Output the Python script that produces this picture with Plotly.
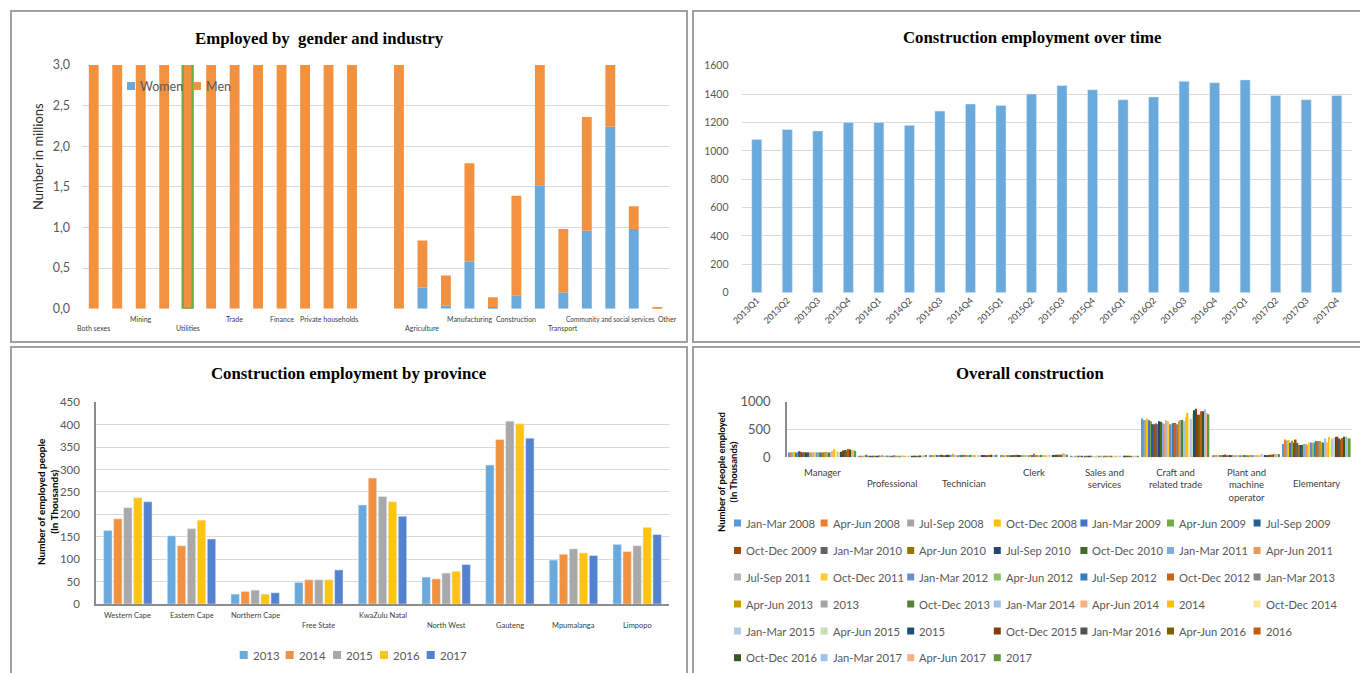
import plotly.graph_objects as go

W, H = 1360, 673

# ------------------------------------------------------------------ DATA
# Panel 1: Employed by gender and industry (millions), 25 category slots
industry_slots = list(range(25))
industry_labels = ["Both sexes", "Mining", "Utilities", "Trade", "Finance",
                   "Private households", "Agriculture", "Manufacturing",
                   "Construction", "Transport", "Community and social services", "Other"]
industry_label_slots = [0, 2, 4, 6, 8, 10, 14, 16, 18, 20, 22, 24]
genders = ["Women", "Men"]
women = [0, 0, 0, 0, 0, 0, 0, 0, 0, 0, 0, 0, 0, 0,
         0.26, 0.04, 0.58, 0.02, 0.16, 1.52, 0.20, 0.96, 2.24, 0.98, 0.0]
men = [3.4, 3.4, 3.4, 3.4, 3.4, 3.4, 3.4, 3.4, 3.4, 3.4, 3.4, 3.4, 0, 3.4,
       0.58, 0.37, 1.21, 0.12, 1.23, 1.90, 0.78, 1.40, 1.20, 0.28, 0.02]

# Panel 2: Construction employment over time (thousands)
quarters = ["2013Q1", "2013Q2", "2013Q3", "2013Q4", "2014Q1", "2014Q2", "2014Q3", "2014Q4",
            "2015Q1", "2015Q2", "2015Q3", "2015Q4", "2016Q1", "2016Q2", "2016Q3", "2016Q4",
            "2017Q1", "2017Q2", "2017Q3", "2017Q4"]
construction_emp = [1080, 1150, 1140, 1200, 1200, 1180, 1280, 1330, 1320, 1400,
                    1460, 1430, 1360, 1380, 1490, 1480, 1500, 1390, 1360, 1390]

# Panel 3: Construction employment by province (thousands)
provinces = ["Western Cape", "Eastern Cape", "Northern Cape", "Free State", "KwaZulu Natal",
             "North West", "Gauteng", "Mpumalanga", "Limpopo"]
years = ["2013", "2014", "2015", "2016", "2017"]
emp_2013 = [164, 152, 22, 48, 221, 60, 310, 98, 133]
emp_2014 = [190, 130, 28, 54, 281, 56, 367, 111, 117]
emp_2015 = [215, 168, 31, 54, 240, 69, 408, 123, 130]
emp_2016 = [237, 187, 22, 54, 228, 73, 402, 114, 171]
emp_2017 = [228, 145, 25, 76, 196, 88, 370, 108, 155]

# Panel 4: Overall construction by occupation (thousands)
occupations = ["Manager", "Professional", "Technician", "Clerk", "Sales and services",
               "Craft and related trade", "Plant and machine operator", "Elementary"]
periods = ["Jan-Mar 2008", "Apr-Jun 2008", "Jul-Sep 2008", "Oct-Dec 2008", "Jan-Mar 2009",
           "Apr-Jun 2009", "Jul-Sep 2009", "Oct-Dec 2009", "Jan-Mar 2010", "Apr-Jun 2010",
           "Jul-Sep 2010", "Oct-Dec 2010", "Jan-Mar 2011", "Apr-Jun 2011", "Jul-Sep 2011",
           "Oct-Dec 2011", "Jan-Mar 2012", "Apr-Jun 2012", "Jul-Sep 2012", "Oct-Dec 2012",
           "Jan-Mar 2013", "Apr-Jun 2013", "2013", "Oct-Dec 2013", "Jan-Mar 2014",
           "Apr-Jun 2014", "2014", "Oct-Dec 2014", "Jan-Mar 2015", "Apr-Jun 2015", "2015",
           "Oct-Dec 2015", "Jan-Mar 2016", "Apr-Jun 2016", "2016", "Oct-Dec 2016",
           "Jan-Mar 2017", "Apr-Jun 2017", "2017"]
manager = [85, 88, 90, 95, 88, 92, 110, 95, 90, 92, 88, 90, 86, 88, 90, 92, 88, 90, 86, 88,
           92, 95, 90, 88, 95, 110, 145, 118, 102, 95, 100, 122, 130, 128, 148, 140, 132, 138, 112]
professional = [25, 30, 28, 32, 45, 30, 28, 26, 30, 28, 25, 32, 30, 40, 26, 30, 32, 28, 25, 30,
                35, 28, 26, 30, 28, 32, 30, 26, 28, 30, 25, 28, 30, 26, 28, 32, 30, 35, 40]
technician = [40, 42, 38, 45, 40, 42, 44, 40, 38, 42, 45, 40, 44, 62, 42, 40, 38, 42, 40, 44,
              42, 40, 38, 42, 44, 40, 42, 38, 40, 44, 42, 40, 38, 42, 40, 44, 42, 40, 45]
clerk = [42, 40, 38, 40, 42, 40, 38, 42, 40, 44, 42, 40, 38, 40, 42, 40, 38, 42, 40, 62,
         40, 42, 38, 40, 42, 40, 38, 42, 40, 38, 42, 40, 44, 48, 50, 45, 72, 60, 45]
sales = [12, 10, 14, 12, 11, 13, 12, 10, 12, 14, 11, 12, 13, 10, 12, 11, 14, 12, 10, 12,
         13, 11, 12, 14, 10, 12, 13, 11, 12, 10, 14, 12, 11, 13, 12, 10, 12, 14, 11]
craft = [696, 672, 666, 696, 666, 649, 595, 595, 607, 595, 649, 637, 607, 595, 666, 649, 595,
         595, 619, 619, 595, 649, 672, 672, 649, 726, 797, 708, 684, 785, 845, 875, 767, 767,
         827, 827, 863, 797, 773]
plant = [35, 38, 40, 36, 42, 38, 40, 52, 38, 36, 40, 38, 36, 38, 40, 38, 36, 38, 40, 38,
         36, 38, 40, 38, 36, 38, 40, 38, 60, 42, 40, 38, 40, 45, 50, 55, 62, 58, 60]
elementary = [238, 321, 297, 309, 262, 297, 262, 321, 262, 220, 220, 220, 238, 238, 220, 268,
              268, 268, 268, 292, 292, 292, 268, 268, 339, 268, 363, 292, 339, 351, 363, 369,
              339, 321, 345, 369, 375, 345, 339]

# ------------------------------------------------------------------ STYLE
BLUE, ORANGE, GREY, GOLD, BLUE2, GREEN = "#6AA9DC", "#F29240", "#A9A9A9", "#FFC312", "#5282D0", "#70AD47"
gender_colors = [BLUE, ORANGE]
year_colors = [BLUE, ORANGE, GREY, GOLD, BLUE2]
period_colors = ["#5B9BD5", "#ED7D31", "#A5A5A5", "#FFC000", "#4472C4", "#70AD47",
                 "#255E91", "#9E480E", "#636363", "#997300", "#264478", "#43682B",
                 "#7CAFDD", "#F1975A", "#B7B7B7", "#FFCD33", "#698ED0", "#8CC168",
                 "#327DC2", "#D26012", "#848484", "#CC9A00", "#A5A5A5", "#548235",
                 "#9DC3E6", "#F4B183", "#FFC000", "#FFE699",
                 "#B4C7E7", "#C5E0B4", "#1F4E79", "#843C0C", "#525252", "#7F6000", "#C55A11",
                 "#385723", "#9DC3E6", "#F4B183", "#5E9C3B"]
SANS = "Lato"
SERIF = "Liberation Serif"
TICKC = "#595959"
LABC = "#404040"
GRIDC = "#D9D9D9"


def fx(p):
    return p / W


def fy(p):
    return 1 - p / H


fig = go.Figure()

# ---------------- Panel 1 (stacked: men drawn on top of women)
fig.add_trace(go.Bar(x=industry_slots, y=women, name=genders[0], marker=dict(color=gender_colors[0], line=dict(width=0)),
                     width=0.42, offset=-0.21, xaxis="x", yaxis="y"))
line_w = [2.5 if s == 4 else 0 for s in industry_slots]
line_c = [GREEN if s == 4 else ORANGE for s in industry_slots]
fig.add_trace(go.Bar(x=industry_slots, y=men, base=women, name=genders[1],
                     marker=dict(color=gender_colors[1], line=dict(width=line_w, color=line_c)),
                     width=0.42, offset=-0.21, xaxis="x", yaxis="y"))

# ---------------- Panel 2
fig.add_trace(go.Bar(x=quarters, y=construction_emp, name="Construction", marker=dict(color=BLUE),
                     width=0.33, offset=-0.165, xaxis="x2", yaxis="y2"))

# ---------------- Panel 3
pitch3, bw3 = 0.157, 0.132
for k, (yr, vals) in enumerate(zip(years, [emp_2013, emp_2014, emp_2015, emp_2016, emp_2017])):
    fig.add_trace(go.Bar(x=provinces, y=vals, name=yr, marker=dict(color=year_colors[k]),
                         width=bw3, offset=-0.38 + k * pitch3, xaxis="x3", yaxis="y3"))

# ---------------- Panel 4
occ_values = [manager, professional, technician, clerk, sales, craft, plant, elementary]
pitch4 = 0.0247
for k, per in enumerate(periods):
    vals = [series[k] for series in occ_values]
    fig.add_trace(go.Bar(x=occupations, y=vals, name=per, marker=dict(color=period_colors[k], line=dict(width=0)),
                         width=pitch4 * 0.92, offset=-len(periods) * pitch4 / 2 + k * pitch4,
                         xaxis="x4", yaxis="y4"))

# ------------------------------------------------------------------ AXES
tick_font = lambda s: dict(family=SANS, size=s, color=TICKC)

fig.update_layout(
    width=W, height=H, margin=dict(l=0, r=0, t=0, b=0, autoexpand=False),
    paper_bgcolor="white", plot_bgcolor="white", barmode="group",
    showlegend=False,
    xaxis=dict(domain=[fx(82), fx(669)], anchor="y", range=[-0.5, 24.5], showticklabels=False,
               showgrid=False, zeroline=False, showline=False, ticks="", automargin=False),
    yaxis=dict(domain=[fy(308.7), fy(65)], anchor="x", range=[0, 3],
               tickvals=[0, 0.5, 1, 1.5, 2, 2.5, 3],
               ticktext=["0,0", "0,5", "1,0", "1,5", "2,0", "2,5", "3,0"],
               tickfont=tick_font(12.5), gridcolor=GRIDC, gridwidth=1.2, zeroline=False,
               showline=False, ticks="", ticklabelstandoff=11, automargin=False),
    xaxis2=dict(domain=[fx(741.5), fx(1352)], anchor="y2", range=[-0.5, 19.5], tickangle=-45,
                tickfont=dict(family=SANS, size=8.8, color=LABC), showgrid=False, zeroline=False,
                showline=False, ticks="", automargin=False),
    yaxis2=dict(domain=[fy(292.7), fy(65.7)], anchor="x2", range=[0, 1600], dtick=200,
                tickfont=tick_font(10.5), gridcolor=GRIDC, gridwidth=1.2, zeroline=False,
                showline=False, ticks="", ticklabelstandoff=12, automargin=False),
    xaxis3=dict(domain=[fx(96), fx(669)], anchor="y3", range=[-0.5, 8.5], showticklabels=False,
                showgrid=False, zeroline=False, showline=True, linecolor="#8C8C8C", linewidth=1.5,
                ticks="", automargin=False),
    yaxis3=dict(domain=[fy(604), fy(402.3)], anchor="x3", range=[0, 450], dtick=50,
                tickfont=tick_font(11.5), gridcolor=GRIDC, gridwidth=1.2, zeroline=False,
                showline=True, linecolor="#8C8C8C", linewidth=1.5, ticks="", ticklabelstandoff=12,
                automargin=False),
    xaxis4=dict(domain=[fx(787), fx(1352)], anchor="y4", range=[-0.5, 7.5], showticklabels=False,
                showgrid=False, zeroline=False, showline=False, ticks="", automargin=False),
    yaxis4=dict(domain=[fy(457.3), fy(401.7)], anchor="x4", range=[0, 1000], dtick=500,
                tickfont=tick_font(13), gridcolor=GRIDC, gridwidth=1.2, zeroline=False,
                showline=True, linecolor="#8C8C8C", linewidth=1.5, ticks="", ticklabelstandoff=12,
                automargin=False),
)

# ------------------------------------------------------------------ PANELS, TITLES, LABELS
border = dict(color="#A0A0A0", width=2)
for (x0, y0, x1, y1) in [(11, 11, 687, 342), (693, 11, 1363, 342), (11, 347, 687, 676), (693, 347, 1363, 676)]:
    fig.add_shape(type="rect", xref="paper", yref="paper", x0=fx(x0), x1=fx(x1), y0=fy(y1), y1=fy(y0),
                  line=border, fillcolor="rgba(0,0,0,0)", layer="above")

titles = [("Employed by  gender and industry", 319, 38),
          ("Construction employment over time", 1032, 37),
          ("Construction employment by province", 349, 373),
          ("Overall construction", 1030, 373)]
for txt, cx, cy in titles:
    fig.add_annotation(text="<b>%s</b>" % txt, xref="paper", yref="paper", x=fx(cx), y=fy(cy),
                       showarrow=False, xanchor="center", yanchor="middle",
                       font=dict(family=SERIF, size=16.8, color="black"))

# axis titles
fig.add_annotation(text="Number in millions", xref="paper", yref="paper", x=fx(38), y=fy(157),
                   textangle=-90, showarrow=False, xanchor="center", yanchor="middle",
                   font=dict(family=SANS, size=13, color="#262626"))
fig.add_annotation(text="<b>Number of employed people<br>(In Thousands)</b>", xref="paper", yref="paper",
                   x=fx(47), y=fy(502), textangle=-90, showarrow=False, xanchor="center", yanchor="middle",
                   font=dict(family=SANS, size=10, color="black"))
fig.add_annotation(text="<b>Number of people employed<br>(In Thousands)</b>", xref="paper", yref="paper",
                   x=fx(728), y=fy(472), textangle=-90, showarrow=False, xanchor="center", yanchor="middle",
                   font=dict(family=SANS, size=9.5, color="black"))

# category labels, panel 1 (staggered as in the source)
lower1 = {"Both sexes", "Utilities", "Agriculture", "Transport"}
for lab, s in zip(industry_labels, industry_label_slots):
    size = 6.6 if lab.startswith("Community") else 7
    xa = "center"
    xpos = s
    if lab == "Other":
        xa, xpos = "left", s - 0.05
    fig.add_annotation(text=lab, xref="x", yref="paper", x=xpos, y=fy(328 if lab in lower1 else 319),
                       showarrow=False, xanchor=xa, yanchor="middle",
                       font=dict(family=SANS, size=size, color=LABC))

# category labels, panel 3
lower3 = {"Free State", "North West", "Gauteng", "Mpumalanga", "Limpopo"}
for lab in provinces:
    fig.add_annotation(text=lab, xref="x3", yref="paper", x=lab, y=fy(625 if lab in lower3 else 615),
                       showarrow=False, xanchor="center", yanchor="middle",
                       font=dict(family=SANS, size=7.5, color=LABC))

# category labels, panel 4
occ_text = {"Sales and services": "Sales and<br>services",
            "Craft and related trade": "Craft and<br>related trade",
            "Plant and machine operator": "Plant and<br>machine<br>operator"}
lower4 = {"Professional", "Technician", "Elementary"}
for lab in occupations:
    fig.add_annotation(text=occ_text.get(lab, lab), xref="x4", yref="paper", x=lab,
                       y=fy(476 if lab in lower4 else 465), showarrow=False, xanchor="center", yanchor="top",
                       font=dict(family=SANS, size=9.5, color=LABC))


# ------------------------------------------------------------------ LEGENDS (Excel-style: small key right beside text)
def legend_item(text, color, tx, ty, key, fsize):
    fig.add_shape(type="rect", xref="paper", yref="paper",
                  x0=fx(tx - 3 - key), x1=fx(tx - 3), y0=fy(ty + key / 2), y1=fy(ty - key / 2),
                  line=dict(width=0), fillcolor=color)
    fig.add_annotation(text=text, xref="paper", yref="paper", x=fx(tx), y=fy(ty), showarrow=False,
                       xanchor="left", yanchor="middle", font=dict(family=SANS, size=fsize, color=TICKC))


for name, col, tx in zip(genders, gender_colors, [138, 204]):
    legend_item(name, col, tx, 86, 8, 12.5)

for name, col, tx in zip(years, year_colors, [250.7, 296.7, 344, 391, 437.7]):
    legend_item(name, col, tx, 655, 8, 11.5)

row_y = [523, 550.5, 577, 604, 631, 657.7]
for k, (name, col) in enumerate(zip(periods, period_colors)):
    legend_item(name, col, 744 + (k % 7) * 86.6, row_y[k // 7], 7, 11.2)

fig.write_html("out.html", post_script="document.body.style.margin='0';document.documentElement.style.overflow='hidden';")
